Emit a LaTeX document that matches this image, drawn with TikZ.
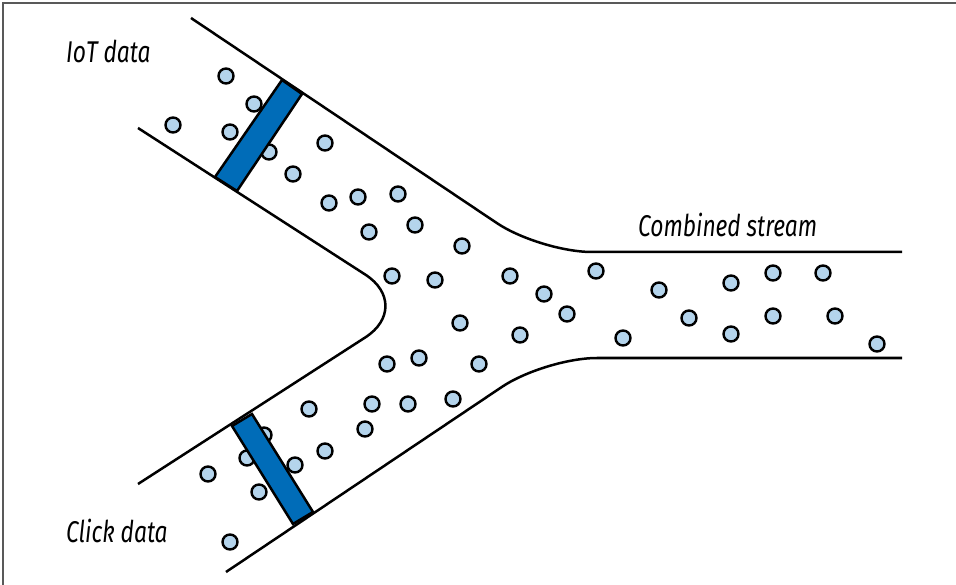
\documentclass[tikz,border=0pt]{standalone}
\usepackage{fontspec}
\setmainfont{Fira Sans}[ItalicFeatures={FakeStretch=0.76}]
\begin{document}
\begin{tikzpicture}[x=1pt,y=-1pt,
  pipe/.style={draw=black,line width=2.5pt,line cap=butt},
  gate/.style={draw=black,line width=2.5pt,fill=gateblue,line join=miter},
  dot/.style={circle,draw=black,line width=2.4pt,fill=dotblue,minimum size=15pt,inner sep=0pt},
  lbl/.style={anchor=base west,inner sep=0pt,font=\itshape\fontsize{30}{32}\selectfont}]
\definecolor{gateblue}{RGB}{0,108,184}
\definecolor{dotblue}{RGB}{180,212,236}
\useasboundingbox (0,0) rectangle (956,585);
% frame
\draw[color=black!65,line width=1.4pt] (3,585) -- (3,3) -- (956,3);
% dots
\foreach \i/\x/\y in {1/226/76,2/254/104,3/173/125,4/230/132,5/269/152,6/325/143,7/293/174,8/329/203,
  9/358/197,10/398/194,11/369/232,12/415/225,13/462/246,14/392/276,15/435/280,16/510/276,
  17/544/294,18/567/314,19/596/271,20/460/323,21/520/335,22/623/338,23/387/364,24/419/358,
  25/479/364,26/659/290,27/731/283,28/773/273,29/823/273,30/689/318,31/773/316,32/835/316,
  33/731/334,34/877/344,35/372/404,36/408/404,37/453/399,38/365/429,39/309/409,40/264/435,
  41/247/458,42/295/465,43/208/474,44/325/451,45/259/492,46/230/542}
  \node[dot] (d\i) at (\x,\y) {};
% pipes
\draw[pipe,rounded corners=52pt] (191,18) -- (540,252) -- (902,252);
\draw[pipe,rounded corners=52pt] (226,572) -- (545,358) -- (902,358);
\draw[pipe,rounded corners=58pt] (138,128) -- (414,306) -- (138,484);
% gates
\draw[gate] (282,80) -- (302,94) -- (237,191) -- (215,177) -- cycle;
\draw[gate] (232,426) -- (252,414) -- (313,512) -- (293,524) -- cycle;
% labels
\node[lbl] (iot) at (66,63) {IoT data};
\node[lbl] (comb) at (638,237) {Combined stream};
\node[lbl] (click) at (66,542) {Click data};
\end{tikzpicture}
\end{document}
